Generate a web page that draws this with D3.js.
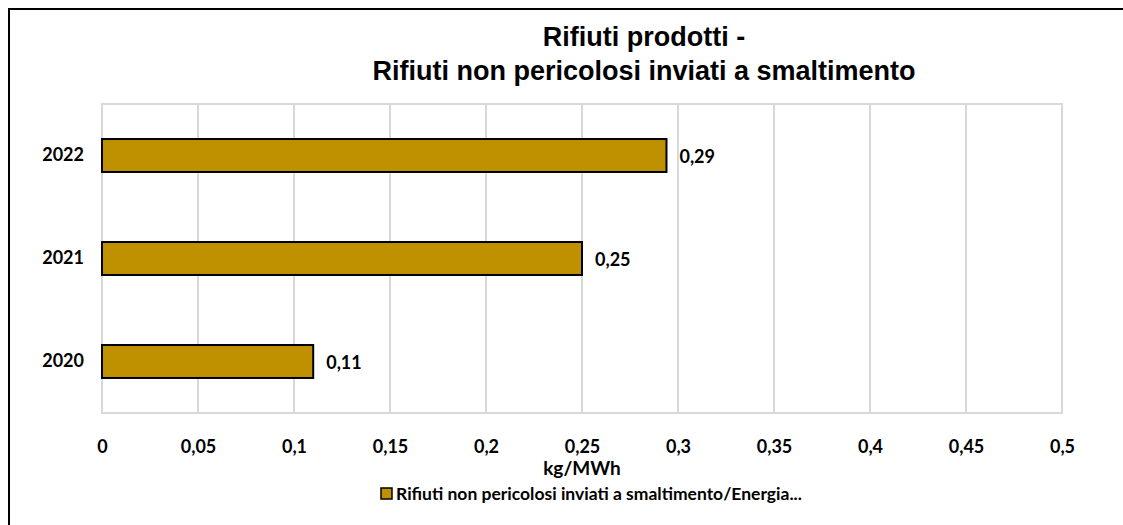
<!DOCTYPE html>
<html lang="it">
<head>
<meta charset="utf-8">
<title>Rifiuti non pericolosi inviati a smaltimento</title>
<script src="https://d3js.org/d3.v7.min.js"></script>
<style>
  body { margin: 0; background: #fff; }
  svg { display: block; }
</style>
</head>
<body>
<div id="chart"></div>
<script>
// data
const years = ['2022', '2021', '2020']
const values = [0.294, 0.25, 0.11]
const valueLabels = ['0,29', '0,25', '0,11']
const xTicks = [0, 0.05, 0.1, 0.15, 0.2, 0.25, 0.3, 0.35, 0.4, 0.45, 0.5]
const titleLines = ['Rifiuti prodotti -', 'Rifiuti non pericolosi inviati a smaltimento']
const axisTitle = 'kg/MWh'
const legendLabel = 'Rifiuti non pericolosi inviati a smaltimento/Energia...'

const width = 1123
const height = 525
const plot = { left: 102, right: 1062, top: 104, bottom: 413 }
const barColor = '#bf9000'
const gridColor = '#d9d9d9'
const labelFont = 'Lato, "Open Sans", sans-serif'

const svg = d3.select('#chart').append('svg')
    .attr('width', width)
    .attr('height', height)

// outer frame (top + left edges only visible)
svg.append('path')
    .attr('d', `M9,${height} L9,9 L${width},9`)
    .attr('fill', 'none')
    .attr('stroke', '#000')
    .attr('stroke-width', 2)

const x = d3.scaleLinear().domain([0, 0.5]).range([plot.left, plot.right])
const y = d3.scaleBand().domain(years).range([plot.top, plot.bottom])
    .paddingInner(0.68).paddingOuter(0.34)

// gridlines
svg.append('g').selectAll('line')
    .data(xTicks)
    .join('line')
    .attr('x1', d => x(d)).attr('x2', d => x(d))
    .attr('y1', plot.top).attr('y2', plot.bottom)
    .attr('stroke', gridColor).attr('stroke-width', 2)

// plot border
svg.append('rect')
    .attr('x', plot.left).attr('y', plot.top)
    .attr('width', plot.right - plot.left).attr('height', plot.bottom - plot.top)
    .attr('fill', 'none').attr('stroke', gridColor).attr('stroke-width', 2)

// bars
const rows = years.map((yr, i) => ({ yr, v: values[i], label: valueLabels[i] }))
svg.append('g').selectAll('rect')
    .data(rows)
    .join('rect')
    .attr('x', x(0))
    .attr('y', d => y(d.yr))
    .attr('width', d => x(d.v) - x(0))
    .attr('height', y.bandwidth())
    .attr('fill', barColor)
    .attr('stroke', '#000')
    .attr('stroke-width', 2)

// value labels
svg.append('g').selectAll('text')
    .data(rows)
    .join('text')
    .attr('x', d => x(d.v) + 13)
    .attr('y', d => y(d.yr) + y.bandwidth() / 2 + 1)
    .attr('dy', '0.35em')
    .attr('font-family', labelFont)
    .attr('font-weight', 'bold')
    .attr('font-size', 18)
    .attr('fill', '#000')
    .text(d => d.label)

// y axis labels
const yAxis = svg.append('g')
    .attr('transform', `translate(${plot.left},0)`)
    .call(d3.axisLeft(y).tickSize(0).tickPadding(18))
yAxis.select('.domain').remove()
yAxis.selectAll('text')
    .attr('font-family', labelFont)
    .attr('font-weight', 'bold')
    .attr('font-size', 18)
    .attr('fill', '#000')

// x axis labels
const xAxis = svg.append('g')
    .attr('transform', `translate(0,${plot.bottom})`)
    .call(d3.axisBottom(x).tickValues(xTicks).tickSize(0).tickPadding(27)
        .tickFormat(d => String(d).replace('.', ',')))
xAxis.select('.domain').remove()
xAxis.selectAll('text')
    .attr('font-family', labelFont)
    .attr('font-weight', 'bold')
    .attr('font-size', 18)
    .attr('fill', '#000')

// axis title
svg.append('text')
    .attr('x', 582)
    .attr('y', 475)
    .attr('text-anchor', 'middle')
    .attr('font-family', labelFont)
    .attr('font-weight', 'bold')
    .attr('font-size', 19)
    .text(axisTitle)

// chart title
svg.append('g').selectAll('text')
    .data(titleLines)
    .join('text')
    .attr('x', 644)
    .attr('y', (d, i) => 46 + i * 34)
    .attr('text-anchor', 'middle')
    .attr('font-family', '"Liberation Sans Narrow", "Arial Narrow", "Liberation Sans", sans-serif')
    .attr('font-weight', 'bold')
    .attr('font-size', 27)
    .attr('fill', '#000')
    .text(d => d)

// legend
const legend = svg.append('g').attr('transform', 'translate(381,494)')
legend.append('rect')
    .attr('x', 0).attr('y', -6)
    .attr('width', 11).attr('height', 11)
    .attr('fill', barColor)
    .attr('stroke', '#000')
    .attr('stroke-width', 1.5)
legend.append('text')
    .attr('x', 15).attr('y', 0)
    .attr('dy', '0.35em')
    .attr('font-family', labelFont)
    .attr('font-weight', 'bold')
    .attr('font-size', 17.5)
    .text(legendLabel)
</script>
</body>
</html>
